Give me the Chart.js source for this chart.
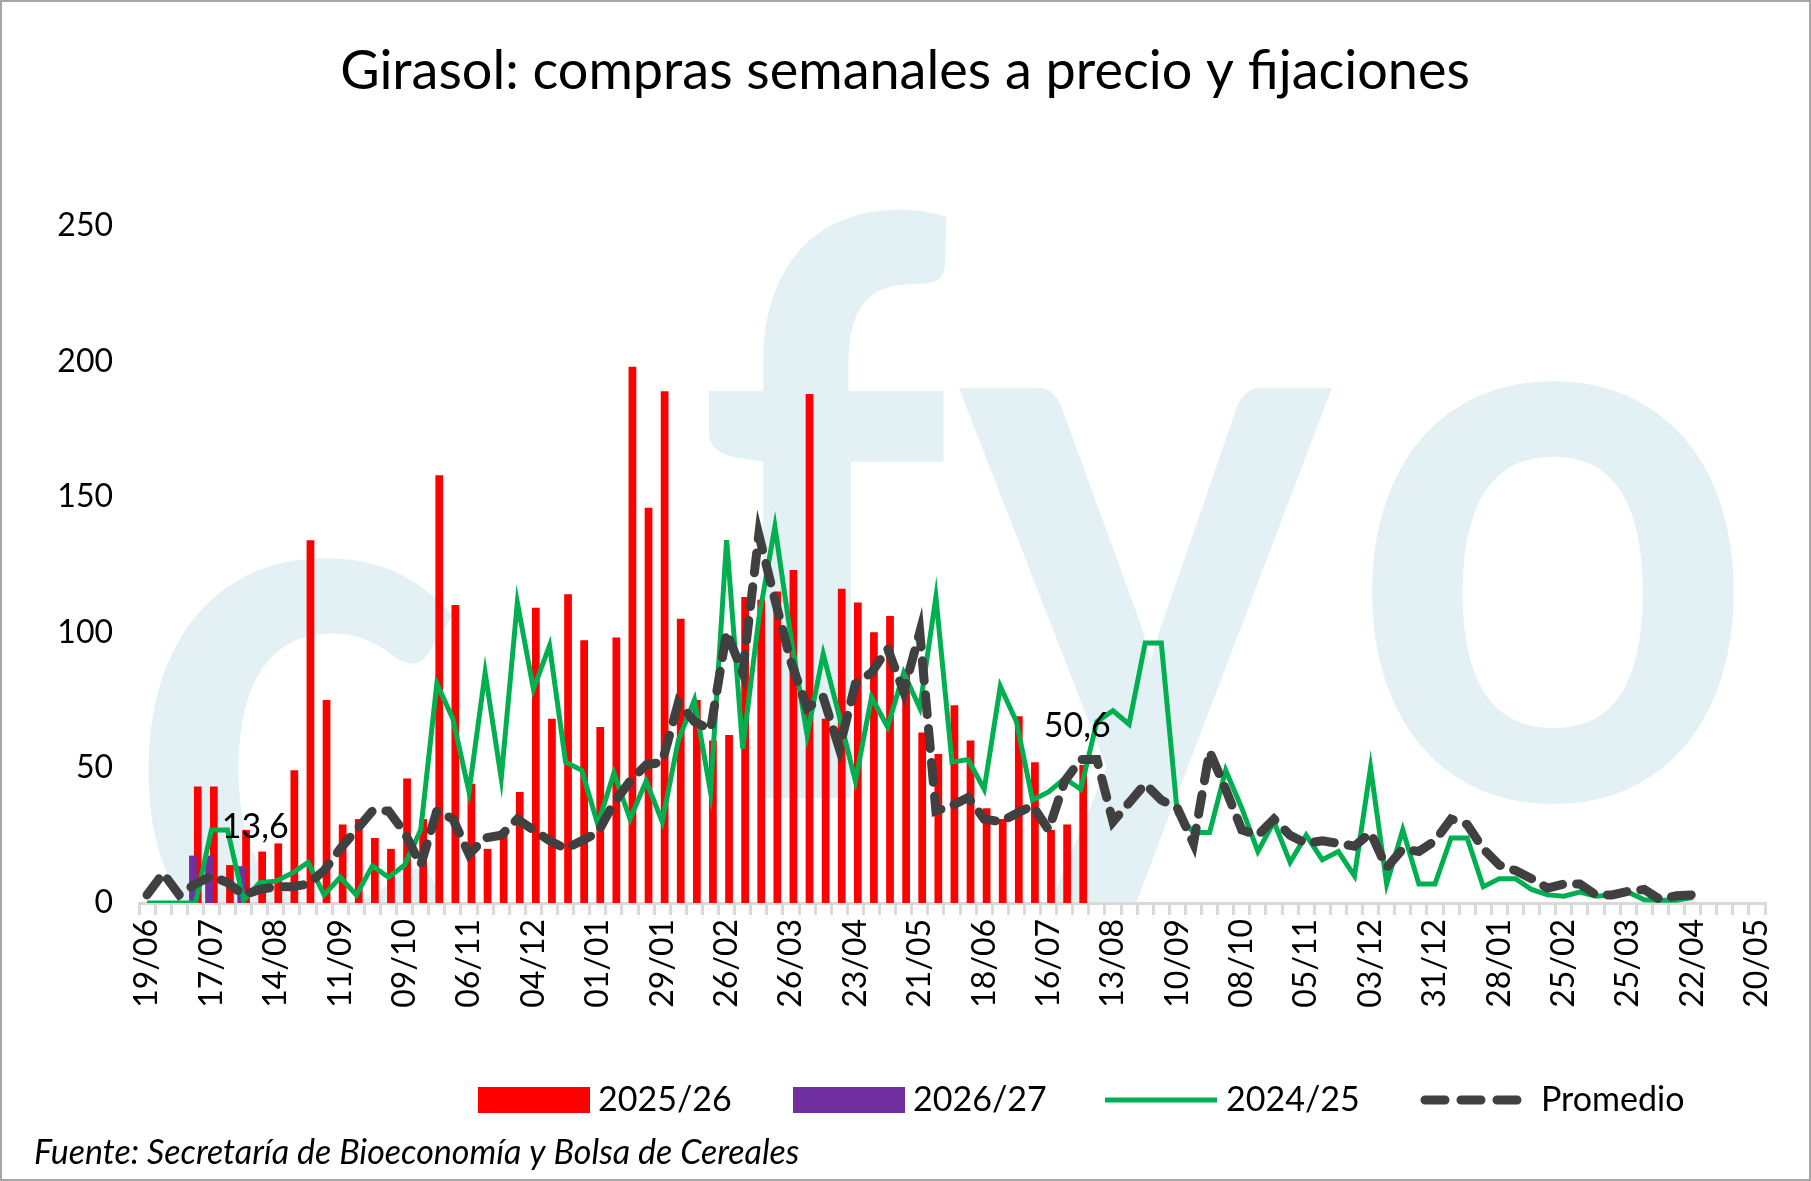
<!DOCTYPE html>
<html>
<head>
<meta charset="utf-8">
<script src="https://cdn.jsdelivr.net/npm/chart.js@4.4.1/dist/chart.umd.min.js"></script>
<style>
  html, body { margin: 0; padding: 0; background: #fff; }
  #wrap { width: 1811px; height: 1181px; position: relative; }
</style>
</head>
<body>
<div id="wrap"><canvas id="chart"></canvas></div>
<script>
// weekly labels, one every 4 weeks
const tickLabels = ['19/06','17/07','14/08','11/09','09/10','06/11','04/12','01/01','29/01','26/02','26/03','23/04',
  '21/05','18/06','16/07','13/08','10/09','08/10','05/11','03/12','31/12','28/01','25/02','25/03','22/04','20/05'];

const compras2526 = [null,null,null,43,43,14,27,19,22,49,134,75,29,31,24,20,46,31,158,110,44,20,27,41,109,68,
  114,97,65,98,198,146,189,105,75,60,62,113,112,115,123,188,68,116,111,100,106,85,63,55,73,60,35,31,69,52,27,29,51];
const compras2627 = [null,null,null,17.5,17.5,null,13.6];
const compras2425 = [0,0,0,0,27,27,1,7.5,8,11,15,3,9.5,3,13.7,9.5,14,27,81,68,41,85,46,111,79,95,
  52,49,29,48,31,45,30,60,75,41,134,57,105,139,98,62,92,69,45,76,65,85,72,113,52,53,42,80,67,38,41,46,42,
  67,71,66,96,96,33,26,26,49,35,19,30,15,25,16,19,10,50,7,27,7,7,24,24,6,9,9,5,3,2.5,4,2.5,3,4,1.2,1,1,2];
const promedio = [3,11,3,7,10,7.5,3,5,6,6,7,12,20,27,34,34,26,14,34,31,18,24,25,31,27,23,
  20,23,26,37,45,51,52,74,67,64,100,85,136,112,89,72,76,57,81,85,94,78,100,34,36,39,31,30,33,36,27,45,53,
  53,30,37,44,38,35,22,56,42,27,25,31,25,22,23,22,21,26,13,20,19,23,31,29,20,14,12,9,5.5,7,7,3,3,4.3,5,1.2,2.7,3];

const nWeeks = 101;
const labels = [];
for (let i = 0; i < nWeeks; i++) labels.push(i % 4 === 0 ? tickLabels[i / 4] : '');

const FONT = 'Lato, "Open Sans", sans-serif';

const decor = {
  id: 'decor',
  beforeDraw(chart) {
    const ctx = chart.ctx;
    const a = chart.chartArea;
    ctx.save();
    ctx.fillStyle = '#fff';
    ctx.fillRect(0, 0, chart.width, chart.height);
    // watermark, clipped at the x axis
    ctx.beginPath();
    ctx.rect(0, 0, chart.width, a.bottom);
    ctx.clip();
    ctx.fillStyle = '#e3f1f5';
    ctx.font = 'bold 800px ' + FONT;
    ctx.textBaseline = 'alphabetic';
    ctx.scale(0.89, 1);
    ctx.fillText('c', 140, 975);
    ctx.fillText('f', 780, 798);
    ctx.fillText('y', 1075, 798);
    ctx.fillText('o', 1515, 798);
    ctx.restore();
  },
  afterDatasetsDraw(chart) {
    const ctx = chart.ctx;
    ctx.save();
    ctx.fillStyle = '#000';
    ctx.font = '34px ' + FONT;
    ctx.textAlign = 'center';
    ctx.textBaseline = 'bottom';
    const p = chart.getDatasetMeta(1).data[6];
    ctx.fillText('13,6', p.x + 14, p.y - 22);
    const r = chart.getDatasetMeta(0).data[58];
    ctx.fillText('50,6', r.x - 6, r.y - 22);
    ctx.restore();
  },
  afterDraw(chart) {
    const ctx = chart.ctx;
    ctx.save();
    ctx.fillStyle = '#000';
    ctx.font = '54px ' + FONT;
    ctx.textAlign = 'center';
    ctx.textBaseline = 'middle';
    ctx.fillText('Girasol: compras semanales a precio y fijaciones', 905, 72);

    // legend
    const ly = 1100;
    ctx.font = '34px ' + FONT;
    ctx.textAlign = 'left';
    ctx.fillStyle = '#ff0000';
    ctx.fillRect(478, ly - 13, 112, 26);
    ctx.fillStyle = '#000';
    ctx.fillText('2025/26', 598, ly);
    ctx.fillStyle = '#7030a0';
    ctx.fillRect(793, ly - 13, 112, 26);
    ctx.fillStyle = '#000';
    ctx.fillText('2026/27', 913, ly);
    ctx.strokeStyle = '#00b050';
    ctx.lineWidth = 5;
    ctx.beginPath(); ctx.moveTo(1105, ly); ctx.lineTo(1217, ly); ctx.stroke();
    ctx.fillText('2024/25', 1226, ly);
    ctx.strokeStyle = '#404040';
    ctx.lineWidth = 9;
    ctx.lineCap = 'round';
    ctx.setLineDash([20, 16]);
    ctx.beginPath(); ctx.moveTo(1425, ly); ctx.lineTo(1530, ly); ctx.stroke();
    ctx.setLineDash([]);
    ctx.fillText('Promedio', 1541, ly);

    ctx.font = 'italic 34px ' + FONT;
    ctx.fillText('Fuente: Secretaría de Bioeconomía y Bolsa de Cereales', 34, 1153);

    ctx.strokeStyle = '#a6a6a6';
    ctx.lineWidth = 2;
    ctx.strokeRect(1, 1, chart.width - 2, chart.height - 2);
    ctx.restore();
  }
};

new Chart(document.getElementById('chart'), {
  type: 'bar',
  data: {
    labels: labels,
    datasets: [
      { label: '2025/26', data: compras2526, backgroundColor: '#ff0000', order: 3,
        categoryPercentage: 0.6, barPercentage: 1.6 },
      { label: '2026/27', data: compras2627, backgroundColor: '#7030a0', order: 2,
        categoryPercentage: 0.6, barPercentage: 1.6 },
      { type: 'line', label: '2024/25', data: compras2425, borderColor: '#00b050', borderWidth: 5,
        pointRadius: 0, tension: 0, order: 1 },
      { type: 'line', label: 'Promedio', data: promedio, borderColor: '#404040', borderWidth: 9,
        borderDash: [20, 14], borderCapStyle: 'round', pointRadius: 0, tension: 0, order: 0 }
    ]
  },
  options: {
    responsive: true,
    maintainAspectRatio: false,
    animation: false,
    layout: { padding: { top: 226, left: 20, right: 46, bottom: 170 } },
    plugins: { legend: { display: false }, tooltip: { enabled: false } },
    scales: {
      x: {
        offset: true,
        grid: { display: true, drawOnChartArea: false, offset: true, color: '#d9d9d9', lineWidth: 3, tickLength: 12 },
        border: { color: '#d9d9d9', width: 3 },
        ticks: { autoSkip: false, maxRotation: 90, minRotation: 90, color: '#000',
          font: { family: FONT, size: 32 }, padding: 4 },
        afterFit(s) { s.height = 108; }
      },
      y: {
        min: 0, max: 250,
        grid: { display: false },
        border: { display: false },
        ticks: { stepSize: 50, color: '#000', font: { family: FONT, size: 32 }, padding: 18 },
        afterFit(s) { s.width = 119; }
      }
    }
  },
  plugins: [decor]
});
</script>
</body>
</html>
